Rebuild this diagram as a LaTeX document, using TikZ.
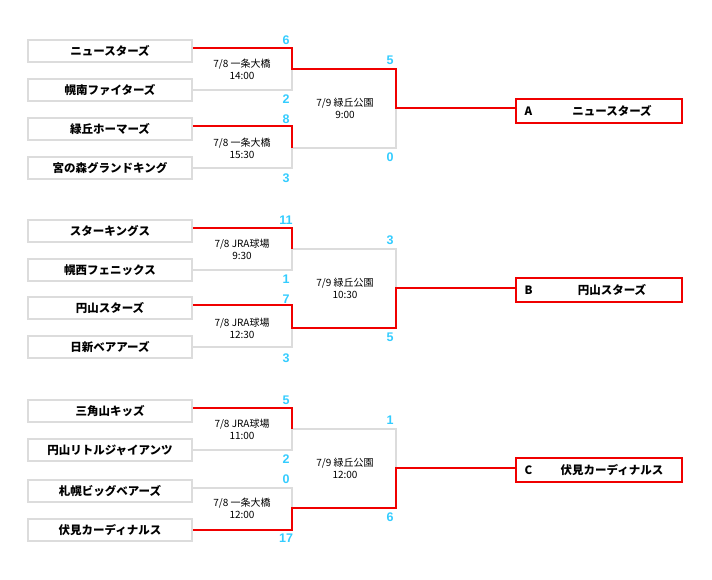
\documentclass[tikz,border=0pt]{standalone}
\usepackage{fontspec}
\setmainfont{Noto Sans CJK JP}
\newfontfamily\scorefont{Liberation Sans}
\usetikzlibrary{positioning}
\definecolor{boxgray}{HTML}{DCDCDC}
\definecolor{winred}{HTML}{F00000}
\definecolor{scoreblue}{HTML}{33CCFF}
\tikzset{
    team/.style={draw=boxgray, line width=1.8pt, minimum width=164pt, minimum height=22pt, inner sep=0pt, font=\bfseries\fontsize{11.5}{13}\selectfont},
    final/.style={draw=winred, line width=1.8pt, minimum width=166pt, minimum height=24pt, inner sep=0pt},
    win/.style={draw=winred, line width=1.8pt},
    lose/.style={draw=boxgray, line width=1.8pt},
    score/.style={font=\scorefont\bfseries\fontsize{12.5}{13}\selectfont, text=scoreblue, inner sep=0pt},
    place/.style={font=\fontsize{10}{12}\selectfont, align=center, inner sep=0pt}
}
\begin{document}
\begin{tikzpicture}[x=1pt, y=-1pt]
    \useasboundingbox (0,0) rectangle (712,580);

    % team boxes
    \foreach \n/\y/\name in {1/51/ニュースターズ, 2/90/幌南ファイターズ, 3/129/緑丘ホーマーズ, 4/168/宮の森グランドキング,
                             5/231/スターキングス, 6/270/幌西フェニックス, 7/308/円山スターズ, 8/347/日新ベアアーズ,
                             9/411/三角山キッズ, 10/450/円山リトルジャイアンツ, 11/491/札幌ビッグベアーズ, 12/530/伏見カーディナルス}{
        \node[team] (t\n) at (110,\y) {\name};
    }

    % final boxes
    \foreach \g/\y/\letter/\name in {A/111/A/ニュースターズ, B/290/B/円山スターズ, C/470/C/伏見カーディナルス}{
        \node[final] (f\g) at (599,\y) {};
        \node[font=\bfseries\fontsize{11.5}{13}\selectfont, anchor=west] (l\g) at ([xshift=6pt]f\g.west) {\letter};
        \node[font=\bfseries\fontsize{11.5}{13}\selectfont] (n\g) at (612,\y) {\name};
    }

    % junctions
    \foreach \g/\oy in {A/0, B/180, C/360}{
        \coordinate (m\g1) at (292,69+\oy);
        \coordinate (m\g2) at (292,148+\oy);
        \coordinate (s\g) at (396,108+\oy);
    }

    % group A
    \draw[lose] (t2.east) -| (mA1);
    \draw[lose] (t4.east) -| (mA2);
    \draw[lose] (mA2) -| (sA);
    \draw[win] ([yshift=3pt]t1.east) -| (mA1) -| (sA) -- (fA.west |- sA);
    \draw[win] ([yshift=3pt]t3.east) -| (mA2);

    % group B
    \draw[lose] (t6.east) -| (mB1);
    \draw[lose] (t8.east) -| (mB2);
    \draw[lose] (mB1) -| (sB);
    \draw[win] ([yshift=3pt]t5.east) -| (mB1);
    \draw[win] ([yshift=3pt]t7.east) -| (mB2) -| (sB) -- (fB.west |- sB);

    % group C
    \draw[lose] (t10.east) -| (mC1);
    \draw[lose] ([yshift=3pt]t11.east) -| (mC2);
    \draw[lose] (mC1) -| (sC);
    \draw[win] ([yshift=3pt]t9.east) -| (mC1);
    \draw[win] (t12.east) -| (mC2) -| (sC) -- (fC.west |- sC);

    % places
    \foreach \g/\oy/\pa/\ta/\pb/\tb/\ts in {A/0/一条大橋/14:00/一条大橋/15:30/9:00,
                                             B/180/JRA球場/9:30/JRA球場/12:30/10:30,
                                             C/360/JRA球場/11:00/一条大橋/12:00/12:00}{
        \node[place] (p\g1) at (242,69+\oy) {7/8 \pa\\\ta};
        \node[place] (p\g2) at (242,148+\oy) {7/8 \pb\\\tb};
        \node[place] (p\g3) at (345,108+\oy) {7/9 緑丘公園\\\ts};
    }

    % scores
    \foreach \g/\oy/\a/\b/\c/\d/\e/\f in {A/0/6/2/8/3/5/0, B/180/11/1/7/3/3/5, C/360/5/2/0/17/1/6}{
        \node[score] at (286,40+\oy) {\a};
        \node[score] at (286,99+\oy) {\b};
        \node[score] at (286,119+\oy) {\c};
        \node[score] at (286,178+\oy) {\d};
        \node[score] at (390,60+\oy) {\e};
        \node[score] at (390,157+\oy) {\f};
    }

\end{tikzpicture}
\end{document}
